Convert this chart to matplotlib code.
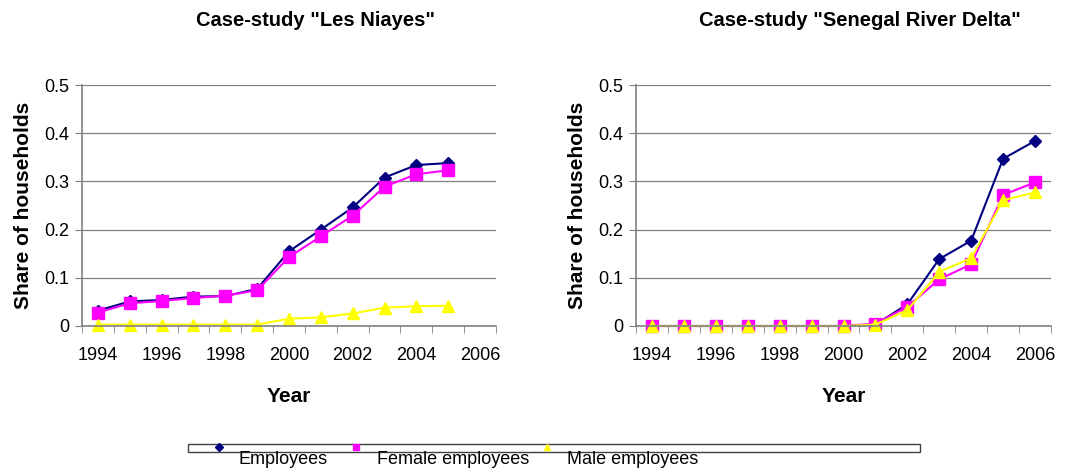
import matplotlib
matplotlib.use("Agg")
import matplotlib.pyplot as plt
from matplotlib.lines import Line2D
from matplotlib.patches import Rectangle
import numpy as np

plt.rcParams['font.family'] = ['Liberation Sans', 'DejaVu Sans']

years = list(range(1994, 2007))
year_labels = [str(y) if (y - 1994) % 2 == 0 else "" for y in years]

# Les Niayes (1994-2005)
niayes_employees = [0.032, 0.051, 0.054, 0.061, 0.062, 0.077, 0.155, 0.200, 0.246, 0.308, 0.334, 0.338]
niayes_female = [0.028, 0.047, 0.052, 0.058, 0.063, 0.074, 0.143, 0.186, 0.229, 0.289, 0.315, 0.323]
niayes_male = [0.003, 0.003, 0.003, 0.003, 0.003, 0.003, 0.015, 0.018, 0.026, 0.038, 0.041, 0.042]

# Senegal River Delta (1994-2006)
delta_employees = [0, 0, 0, 0, 0, 0, 0, 0.003, 0.045, 0.139, 0.177, 0.347, 0.384]
delta_female = [0, 0, 0, 0, 0, 0, 0, 0.005, 0.040, 0.097, 0.128, 0.272, 0.298]
delta_male = [0, 0, 0, 0, 0, 0, 0, 0.003, 0.033, 0.112, 0.141, 0.261, 0.277]

series_names = ["Employees", "Female employees", "Male employees"]
colors = ["#000080", "#FF00FF", "#FFFF00"]
markers = ["D", "s", "^"]
msizes = [6, 8, 9]

W, H = 1068, 476
fig = plt.figure(figsize=(W / 100, H / 100), dpi=100)

def add_ax(x0, x1, y0, y1):
    return fig.add_axes([x0 / W, 1 - y1 / H, (x1 - x0) / W, (y1 - y0) / H])

def style(ax, title, title_x):
    ax.set_xlim(-0.5, 12.5)
    ax.set_ylim(0, 0.5)
    ax.set_yticks(np.arange(0, 0.51, 0.1))
    ax.set_yticklabels(["0", "0.1", "0.2", "0.3", "0.4", "0.5"])
    ax.set_xticks(range(len(years)))
    ax.set_xticklabels(year_labels)
    ax.set_xticks(np.arange(-0.5, 12.6, 1), minor=True)
    ax.tick_params(axis='x', which='major', length=0, pad=15, labelsize=13)
    ax.tick_params(axis='x', which='minor', length=5, color='#808080')
    ax.tick_params(axis='y', length=5, color='#808080', labelsize=13, pad=4)
    ax.grid(axis='y', color='#808080', linewidth=0.9)
    ax.set_axisbelow(True)
    for s in ['top', 'right']:
        ax.spines[s].set_visible(False)
    for s in ['left', 'bottom']:
        ax.spines[s].set_color('#808080')
        ax.spines[s].set_linewidth(1.2)
    ax.set_ylabel("Share of households", fontsize=15, fontweight='bold', labelpad=8)
    ax.set_xlabel("Year", fontsize=15, fontweight='bold', labelpad=17)
    fig.text(title_x / W, 1 - 20 / H, title, fontsize=14.5, fontweight='bold',
             ha='center', va='center')

ax1 = add_ax(82, 496, 85, 326)
style(ax1, 'Case-study "Les Niayes"', 316)
x1 = np.arange(len(niayes_employees))
for vals, c, m, ms in zip([niayes_employees, niayes_female, niayes_male], colors, markers, msizes):
    ax1.plot(x1, vals, color=c, marker=m, markersize=ms, linewidth=1.5, clip_on=False)

ax2 = add_ax(636, 1051, 85, 326)
style(ax2, 'Case-study "Senegal River Delta"', 860)
x2 = np.arange(len(delta_employees))
for vals, c, m, ms in zip([delta_employees, delta_female, delta_male], colors, markers, msizes):
    ax2.plot(x2, vals, color=c, marker=m, markersize=ms, linewidth=1.5, clip_on=False)

# Legend (mimicking the original's squashed box)
fig.patches.append(Rectangle((188 / W, 1 - 452 / H), (920 - 188) / W, 8 / H,
                             transform=fig.transFigure, facecolor='white',
                             edgecolor='#404040', linewidth=1.0, figure=fig))
leg_mx = [219, 356, 547]
leg_tx = [239, 377, 567]
leg_ms = [4, 5, 5]
for name, c, m, mx, tx, ms in zip(series_names, colors, markers, leg_mx, leg_tx, leg_ms):
    fig.add_artist(Line2D([mx / W], [1 - 447 / H], marker=m, color=c, markersize=ms,
                          linestyle='none', transform=fig.transFigure))
    fig.text(tx / W, 1 - 459 / H, name, fontsize=13, ha='left', va='center',
             family=['Liberation Sans Narrow', 'Liberation Sans', 'DejaVu Sans'])

fig.savefig("out.png", dpi=100)
